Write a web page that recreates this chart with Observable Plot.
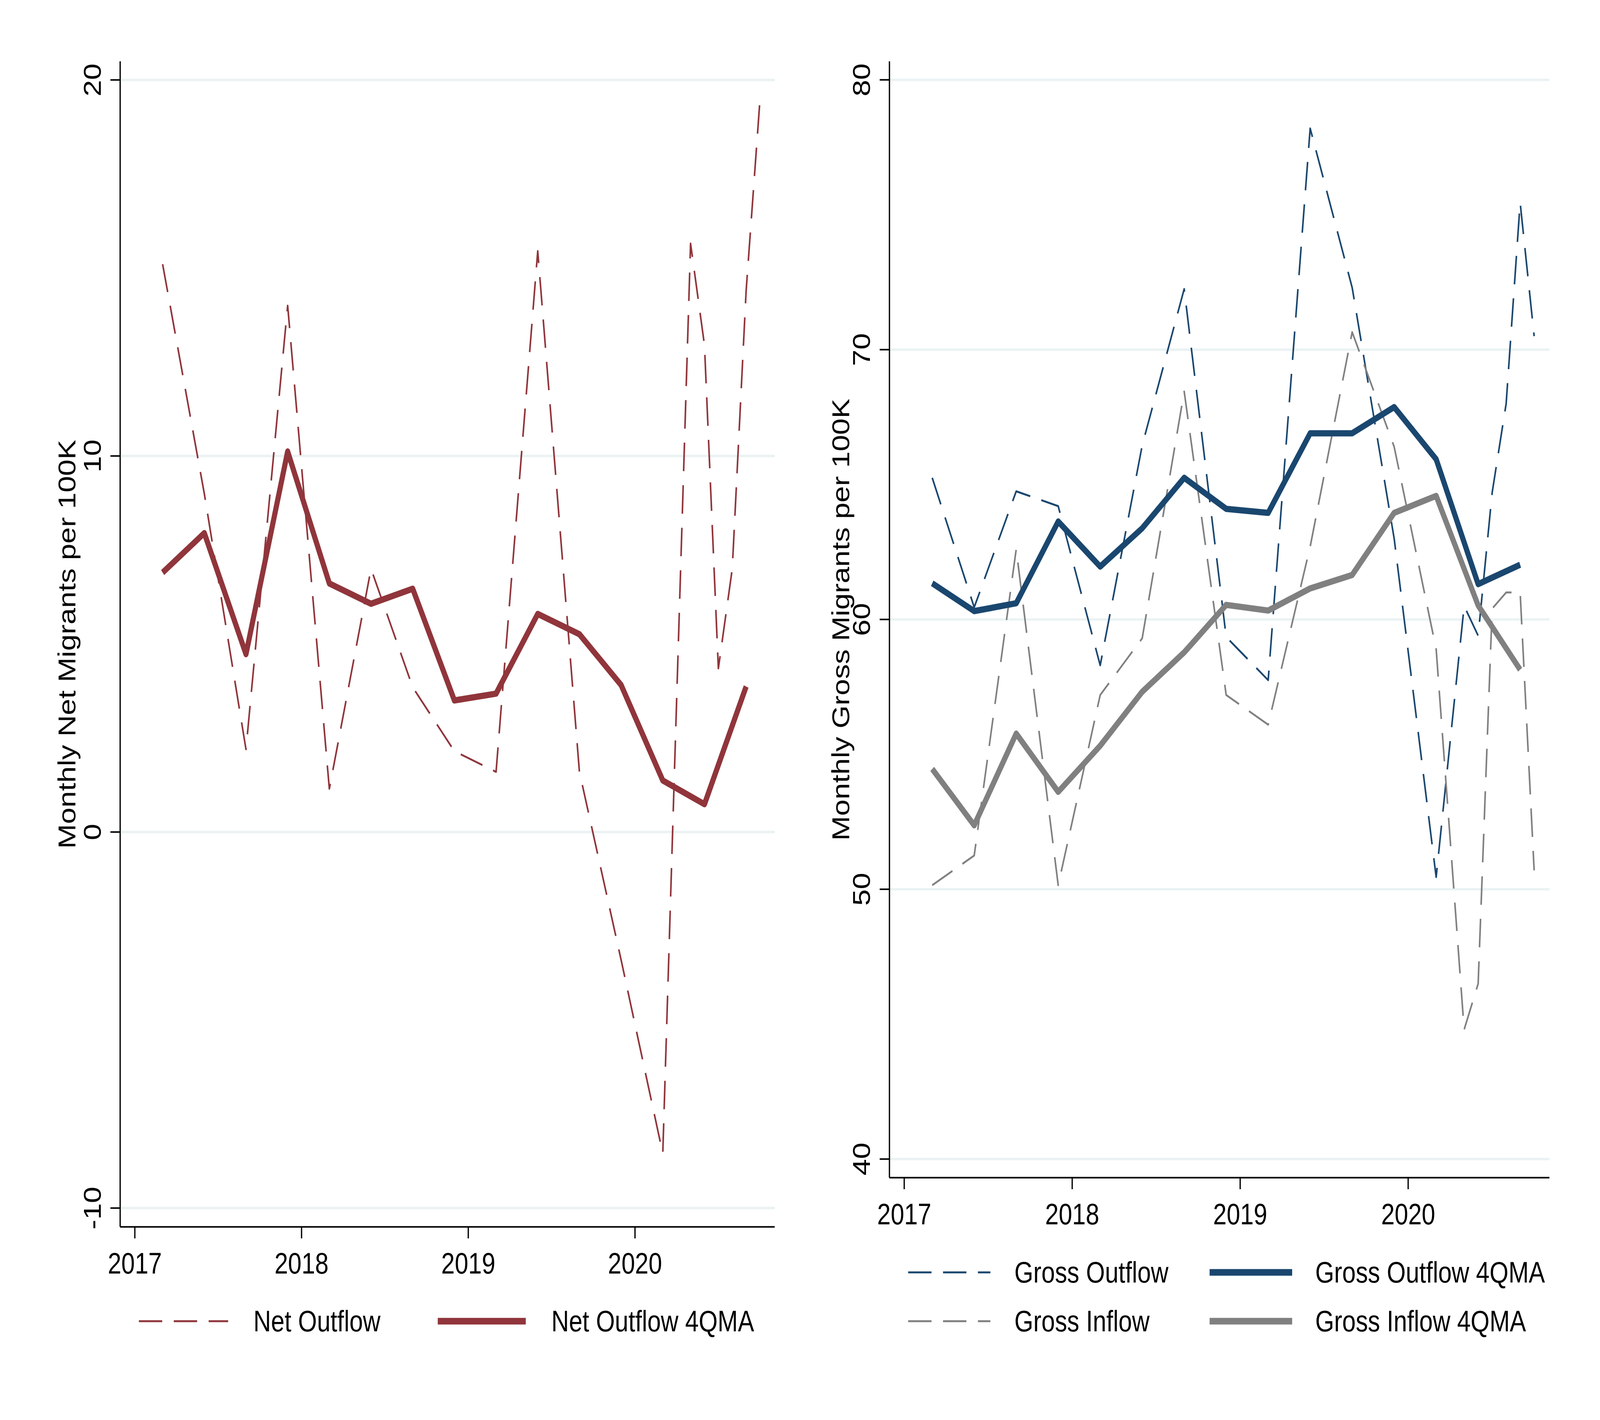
<!DOCTYPE html>
<html>
<head>
<meta charset="utf-8">
<script src="https://cdn.jsdelivr.net/npm/d3@7"></script>
<script src="https://cdn.jsdelivr.net/npm/@observablehq/plot@0.6"></script>
<style>
  html, body { margin: 0; padding: 0; background: #ffffff; overflow: hidden; }
  #wrap { position: relative; overflow: hidden; background: #ffffff; }
  #page { position: absolute; left: 0; top: 0; width: 5000px; height: 3636px; background: #ffffff; overflow: hidden;
          font-family: "Liberation Sans", Arial, sans-serif; color: #000; transform-origin: 0 0; }
  .panel { position: absolute; top: 0; }
  .lg-line { position: absolute; overflow: visible; }
  .lg-text { position: absolute; height: 100px; display: flex; align-items: center;
             font-size: 76px; line-height: 1; white-space: nowrap; }
</style>
</head>
<body>
<div id="wrap"><div id="page"></div></div>
<script>
// ---------------- data ----------------
// raw series (quarterly through 2020Q1, then monthly in 2020)
const rawDates = ["2017-03","2017-06","2017-09","2017-12","2018-03","2018-06","2018-09","2018-12",
                  "2019-03","2019-06","2019-09","2019-12","2020-03","2020-05","2020-06","2020-07",
                  "2020-08","2020-09","2020-10"];
const netOutflow   = [15.1, 9.0, 2.2, 14.0, 1.15, 7.0, 3.85, 2.15, 1.6, 15.45, 1.6, -3.4, -8.55,
                      15.65, 12.95, 4.35, 7.0, 14.4, 19.5];
const grossOutflow = [65.25, 60.45, 64.75, 64.2, 58.3, 66.45, 72.25, 59.35, 57.75, 78.2, 72.3, 63.0,
                      50.45, 60.5, 59.4, 64.7, 68.0, 75.45, 70.5];
const grossInflow  = [50.15, 51.25, 62.6, 50.15, 57.2, 59.3, 68.45, 57.2, 56.1, 62.7, 70.65, 66.4,
                      58.9, 44.8, 46.5, 60.4, 61.0, 61.0, 50.7];

// 4-quarter moving averages (quarterly)
const maDates = ["2017-03","2017-06","2017-09","2017-12","2018-03","2018-06","2018-09","2018-12",
                 "2019-03","2019-06","2019-09","2019-12","2020-03","2020-06","2020-09"];
const netOutflowMA   = [6.9, 7.95, 4.73, 10.12, 6.61, 6.07, 6.47, 3.5, 3.68, 5.8, 5.26, 3.91, 1.37, 0.74, 3.87];
const grossOutflowMA = [61.34, 60.31, 60.6, 63.63, 61.96, 63.38, 65.25, 64.1, 63.95, 66.9, 66.9, 67.87, 65.94, 61.31, 62.03];
const grossInflowMA  = [54.46, 52.37, 55.77, 53.61, 55.32, 57.32, 58.78, 60.54, 60.33, 61.15, 61.65, 63.95, 64.58, 60.52, 58.14];

const yearTicks = [2017, 2018, 2019, 2020];
const netTicks = [-10, 0, 10, 20];
const grossTicks = [40, 50, 60, 70, 80];

const labels = {
  netY: "Monthly Net Migrants per 100K",
  grossY: "Monthly Gross Migrants per 100K",
  net: "Net Outflow", netMA: "Net Outflow 4QMA",
  gout: "Gross Outflow", goutMA: "Gross Outflow 4QMA",
  gin: "Gross Inflow", ginMA: "Gross Inflow 4QMA"
};

// ---------------- helpers ----------------
const toYear = s => { const [y, m] = s.split("-").map(Number); return y + (m - 1) / 12; };
const rows = (dates, vals) => dates.map((d, i) => ({t: toYear(d), v: vals[i]}));

const C_NET = "#90353B", C_NAVY = "#1A476F", C_GRAY = "#808080", C_GRID = "#EAF2F3";
const DASH = "73,36";
const FONT = 76;

function panel({width, height, ml, mr, mt, mb, xDomain, yDomain, yTicks, ylabel, labelDx, series}) {
  const lineMarks = series.map(s => Plot.line(s.data, {
    x: "t", y: "v", stroke: s.color, strokeWidth: s.width,
    strokeDasharray: s.dash || null, strokeLinejoin: "round", strokeLinecap: "butt"
  }));
  return Plot.plot({
    width, height,
    marginLeft: ml, marginRight: mr, marginTop: mt, marginBottom: mb,
    style: {fontFamily: "'Liberation Sans', Arial, sans-serif", background: "transparent", overflow: "visible", color: "#000"},
    x: {type: "linear", domain: xDomain},
    y: {type: "linear", domain: yDomain},
    marks: [
      Plot.ruleY(yTicks, {y: d => d, stroke: C_GRID, strokeWidth: 6}),
      ...lineMarks,
      Plot.axisX({ticks: yearTicks, tickSize: 30, tickFormat: () => "", strokeWidth: 4, label: null}),
      Plot.axisY({ticks: yTicks, tickSize: 30, tickFormat: () => "", strokeWidth: 4, label: null}),
      Plot.ruleX([xDomain[0]], {x: d => d, stroke: "#000", strokeWidth: 4}),
      Plot.ruleY([yDomain[0]], {y: d => d, stroke: "#000", strokeWidth: 4}),
      Plot.text(yearTicks, {x: d => d, frameAnchor: "bottom", dy: 95, text: d => String(d),
        fontSize: FONT, lineAnchor: "middle", textAnchor: "middle", fill: "#000"}),
      Plot.text(yTicks, {y: d => d, frameAnchor: "left", dx: -85, rotate: -90, text: d => String(d),
        fontSize: FONT, lineAnchor: "middle", textAnchor: "middle", fill: "#000"}),
      Plot.text([ylabel], {frameAnchor: "left", dx: labelDx, rotate: -90, text: d => d,
        fontSize: FONT, lineAnchor: "middle", textAnchor: "middle", fill: "#000"})
    ]
  });
}

const page = document.getElementById("page");
const wrap = document.getElementById("wrap");

// fit the 5000 x 3636 layout to the actual viewport
function fit() {
  const vw = document.documentElement.clientWidth || window.innerWidth || 5000;
  const vh = document.documentElement.clientHeight || window.innerHeight || 3636;
  const sx = vw / 5000, sy = vh / 3636;
  page.style.transform = `scale(${sx}, ${sy})`;
  wrap.style.width = (5000 * sx) + "px";
  wrap.style.height = (3636 * sy) + "px";
}
fit();
window.addEventListener("resize", fit);

// ---------------- left panel ----------------
const left = panel({
  width: 2480, height: 3300, ml: 375, mr: 59, mt: 157, mb: 159,
  xDomain: [2016.912, 2020.839], yDomain: [-10.50, 20.49],
  yTicks: netTicks, ylabel: labels.netY, labelDx: -164,
  series: [
    {data: rows(rawDates, netOutflow), color: C_NET, width: 5, dash: DASH},
    {data: rows(maDates, netOutflowMA), color: C_NET, width: 16}
  ]
});
left.classList.add("panel");
left.style.left = "0px";
page.appendChild(left);

// ---------------- right panel ----------------
const right = panel({
  width: 2480, height: 3180, ml: 279, mr: 138, mt: 157, mb: 165,
  xDomain: [2016.912, 2020.842], yDomain: [39.31, 80.68],
  yTicks: grossTicks, ylabel: labels.grossY, labelDx: -150,
  series: [
    {data: rows(rawDates, grossOutflow), color: C_NAVY, width: 5, dash: DASH},
    {data: rows(rawDates, grossInflow), color: C_GRAY, width: 5, dash: DASH},
    {data: rows(maDates, grossOutflowMA), color: C_NAVY, width: 16},
    {data: rows(maDates, grossInflowMA), color: C_GRAY, width: 16}
  ]
});
right.classList.add("panel");
right.style.left = "2500px";
page.appendChild(right);

// ---------------- legends (below the plots) ----------------
const NS = "http://www.w3.org/2000/svg";
function sample(x, cy, w, color, sw, dash) {
  const svg = document.createElementNS(NS, "svg");
  svg.setAttribute("class", "lg-line");
  svg.setAttribute("width", w);
  svg.setAttribute("height", 40);
  svg.style.left = x + "px";
  svg.style.top = (cy - 20) + "px";
  const ln = document.createElementNS(NS, "line");
  ln.setAttribute("x1", 0); ln.setAttribute("x2", w);
  ln.setAttribute("y1", 20); ln.setAttribute("y2", 20);
  ln.setAttribute("stroke", color);
  ln.setAttribute("stroke-width", sw);
  if (dash) ln.setAttribute("stroke-dasharray", dash);
  svg.appendChild(ln);
  page.appendChild(svg);
}
function legendText(x, cy, txt) {
  const d = document.createElement("div");
  d.className = "lg-text";
  d.style.left = x + "px";
  d.style.top = (cy - 50) + "px";
  d.textContent = txt;
  page.appendChild(d);
}

// left legend
sample(434, 3383, 279, C_NET, 5, DASH);
legendText(792, 3383, labels.net);
sample(1368, 3383, 275, C_NET, 17);
legendText(1723, 3383, labels.netMA);

// right legend
sample(2838, 3258, 257, C_NAVY, 5, DASH);
legendText(3170, 3258, labels.gout);
sample(3780, 3258, 258, C_NAVY, 17);
legendText(4110, 3258, labels.goutMA);
sample(2838, 3383, 257, C_GRAY, 5, DASH);
legendText(3170, 3383, labels.gin);
sample(3780, 3383, 258, C_GRAY, 17);
legendText(4110, 3383, labels.ginMA);
</script>
</body>
</html>
